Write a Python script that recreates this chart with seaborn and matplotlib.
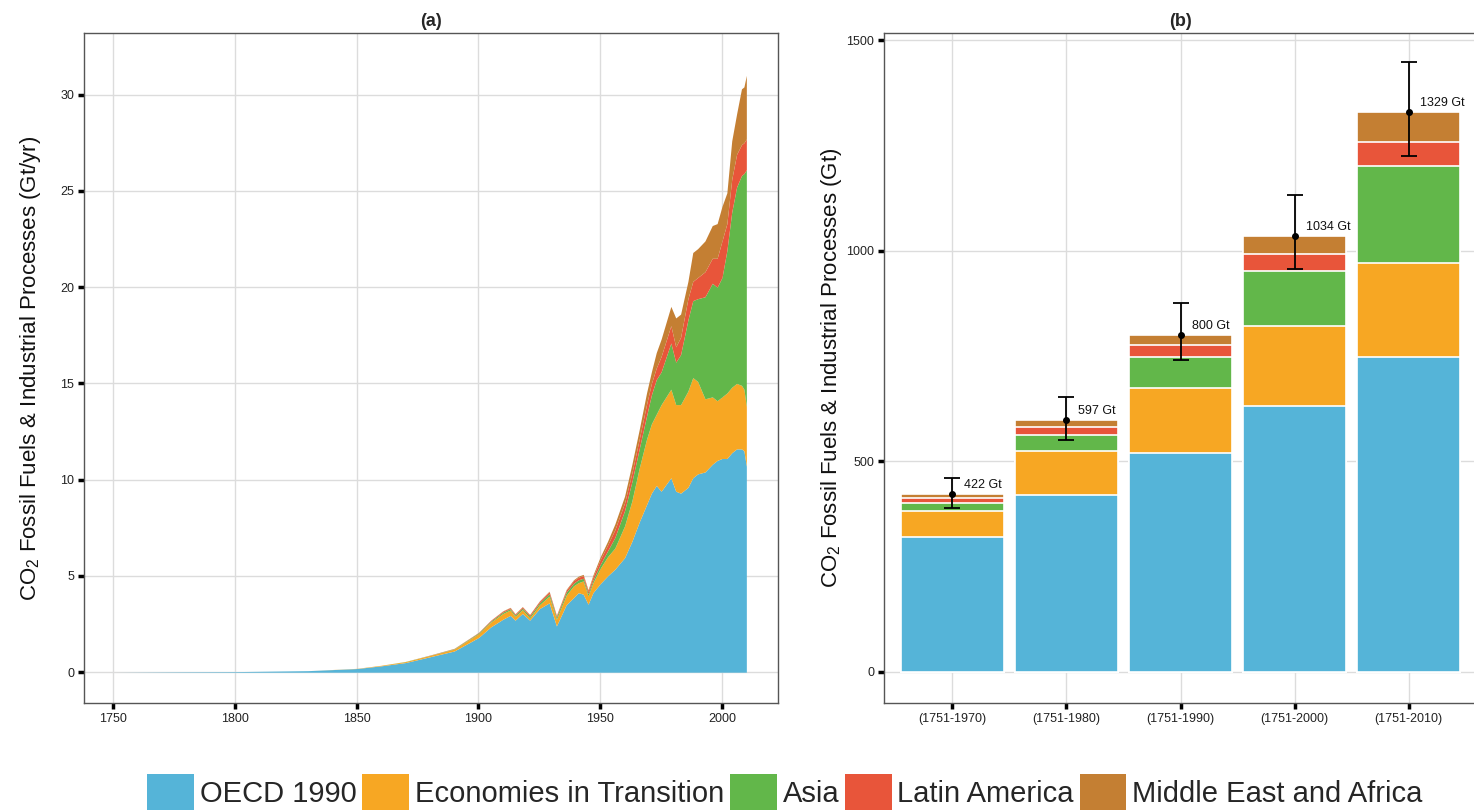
import matplotlib
matplotlib.use("Agg")
import matplotlib.pyplot as plt
from matplotlib.patches import Patch
import seaborn as sns
import pandas as pd
import numpy as np

# regions, colours
regions = ["OECD 1990", "Economies in Transition", "Asia", "Latin America",
           "Middle East and Africa"]
colors = ["#55b4d8", "#f7a723", "#62b74a", "#e8553a", "#c47f33"]

# (a) annual emissions, Gt CO2 / yr
years = [1751, 1780, 1800, 1830, 1850, 1860, 1870, 1880, 1890, 1900, 1905,
         1910, 1913, 1915, 1918, 1921, 1925, 1929, 1932, 1936, 1939, 1941,
         1943, 1945, 1947, 1950, 1953, 1956, 1960, 1963, 1966, 1969, 1971,
         1973, 1975, 1979, 1981, 1983, 1986, 1988, 1990, 1993, 1996, 1998,
         2000, 2002, 2004, 2006, 2008, 2009, 2010]
oecd = [0, .02, .03, .08, .19, .33, .50, .80, 1.10, 1.80, 2.35,
        2.75, 2.95, 2.70, 3.05, 2.70, 3.30, 3.60, 2.40, 3.50, 3.87, 4.13,
        4.05, 3.53, 4.13, 4.60, 5.00, 5.35, 5.95, 6.80, 7.80, 8.70, 9.30,
        9.70, 9.40, 10.10, 9.40, 9.30, 9.60, 10.10, 10.30, 10.40, 10.80, 11.00,
        11.10, 11.10, 11.40, 11.60, 11.60, 11.50, 10.70]
eit = [0, 0, 0, 0, .01, .03, .05, .07, .10, .20, .25,
       .30, .28, .20, .20, .12, .20, .35, .35, .50, .61, .52,
       .69, .43, .52, .80, 1.00, 1.10, 1.65, 2.10, 2.80, 3.40, 3.60,
       3.70, 4.50, 4.60, 4.50, 4.60, 5.00, 5.20, 4.80, 3.80, 3.50, 3.10,
       3.20, 3.40, 3.40, 3.40, 3.30, 3.20, 3.10]
asia = [0, 0, 0, 0, 0, 0, .01, .01, .02, .04, .05,
        .07, .07, .07, .08, .09, .10, .13, .11, .15, .14, .15,
        .14, .12, .13, .20, .30, .55, .80, 1.00, 1.00, 1.20, 1.50,
        1.80, 1.70, 2.40, 2.20, 2.60, 3.70, 4.00, 4.30, 5.30, 5.90, 5.90,
        6.20, 7.40, 9.10, 10.20, 10.90, 11.20, 12.30]
latam = [0, 0, 0, 0, 0, 0, 0, .01, .01, .02, .04,
         .05, .05, .05, .06, .07, .08, .10, .07, .11, .13, .13,
         .14, .12, .17, .25, .30, .40, .40, .45, .50, .60, .60,
         .60, .80, .90, .80, .90, 1.10, 1.00, 1.10, 1.30, 1.30, 1.50,
         1.90, 1.40, 1.70, 1.70, 1.60, 1.60, 1.60]
mea = [0, 0, 0, 0, 0, 0, 0, 0, .01, .01, .01,
       .02, .02, .02, .02, .02, .02, .03, .03, .04, .05, .06,
       .06, .08, .10, .15, .20, .30, .35, .45, .50, .60, .60,
       .80, .90, 1.00, 1.50, 1.20, .90, 1.50, 1.50, 1.60, 1.70, 1.80,
       1.80, 1.60, 2.00, 2.10, 2.90, 2.90, 3.30]

# (b) cumulative emissions, Gt CO2
periods = ["(1751-1970)", "(1751-1980)", "(1751-1990)", "(1751-2000)",
           "(1751-2010)"]
cum_oecd = [320, 420, 520, 631, 748]
cum_eit = [62, 105, 154, 190, 222]
cum_asia = [20, 38, 74, 131, 230]
cum_latam = [11, 18, 27, 40, 57]
cum_mea = [9, 16, 25, 42, 72]
totals = [422, 597, 800, 1034, 1329]
err_low = [389, 551, 741, 957, 1225]
err_high = [460, 653, 876, 1132, 1448]

sns.set_theme(style="whitegrid")
plt.rcParams["font.family"] = ["Liberation Sans", "DejaVu Sans"]
plt.rcParams["mathtext.default"] = "regular"

fig = plt.figure(figsize=(14.74, 8.11), dpi=100)
ax1 = fig.add_axes([84 / 1474, 1 - 703 / 811, 694 / 1474, 670 / 811])
ax2 = fig.add_axes([884 / 1474, 1 - 703 / 811, 593 / 1474, 670 / 811])

# panel (a): stacked area
ax1.stackplot(years, oecd, eit, asia, latam, mea, colors=colors,
              linewidth=0)
ax1.set_xlim(1738, 2023)
ax1.set_ylim(-1.6, 33.2)
ax1.set_xticks([1750, 1800, 1850, 1900, 1950, 2000])
ax1.set_yticks([0, 5, 10, 15, 20, 25, 30])
ax1.set_ylabel("CO$_2$ Fossil Fuels & Industrial Processes (Gt/yr)",
               fontsize=16, color="#111111")
ax1.yaxis.set_label_coords(-0.059, 0.5)
ax1.set_title("(a)", fontsize=13, fontweight="bold", pad=5)

# panel (b): stacked bars, drawn as cumulative layers from the top down
df = pd.DataFrame({"period": periods, "OECD 1990": cum_oecd,
                   "Economies in Transition": cum_eit, "Asia": cum_asia,
                   "Latin America": cum_latam,
                   "Middle East and Africa": cum_mea})
stack = df[regions].cumsum(axis=1)
for name, col in reversed(list(zip(regions, colors))):
    sns.barplot(x=df["period"], y=stack[name], color=col, width=0.9,
                saturation=1, edgecolor="white", linewidth=1.2,
                errorbar=None, ax=ax2)

tot = np.array(totals)
ax2.errorbar(range(len(periods)), tot,
             yerr=[tot - np.array(err_low), np.array(err_high) - tot],
             fmt="o", color="black", ms=4, capsize=6, elinewidth=1.3,
             capthick=1.3, zorder=5)
for i, t in enumerate(totals):
    ax2.text(i + 0.1, t + 22, f"{t} Gt", fontsize=9, ha="left",
             va="center", color="#111111", zorder=6)

ax2.set_xlim(-0.6, 4.6)
ax2.set_ylim(-74, 1517)
ax2.set_yticks([0, 500, 1000, 1500])
ax2.set_xlabel("")
ax2.set_ylabel("CO$_2$ Fossil Fuels & Industrial Processes (Gt)",
               fontsize=16, color="#111111")
ax2.yaxis.set_label_coords(-0.0675, 0.5)
ax2.set_title("(b)", fontsize=13, fontweight="bold", pad=5)

for ax in (ax1, ax2):
    ax.set_axisbelow(True)
    ax.grid(True, axis="both", color="#dcdcdc", linewidth=1)
    ax.tick_params(bottom=True, left=True, direction="out", length=4,
                   width=2.5, color="black", labelsize=9,
                   labelcolor="#222222", pad=3)
    for s in ax.spines.values():
        s.set_color("#555555")
        s.set_linewidth(1)

handles = [Patch(facecolor=c, edgecolor="none") for c in colors]
fig.legend(handles, regions, loc="center",
           bbox_to_anchor=(785 / 1474, 1 - 792 / 811), ncol=5,
           frameon=False, fontsize=21, handlelength=1.6, handleheight=1.55,
           handletextpad=0.2, columnspacing=0.2, borderaxespad=0)

fig.savefig("out.png", dpi=100)
